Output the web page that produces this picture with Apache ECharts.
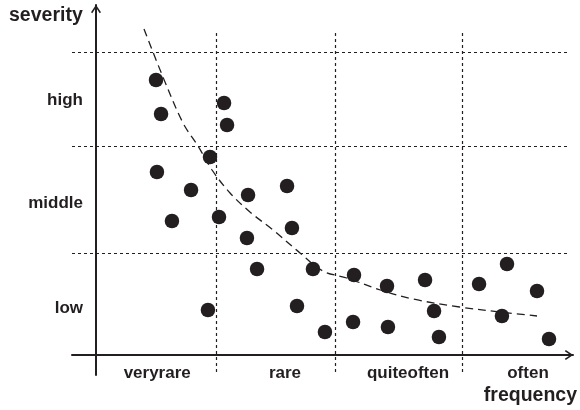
<!DOCTYPE html>
<html>
<head>
<meta charset="utf-8">
<script src="https://cdn.jsdelivr.net/npm/echarts@6/dist/echarts.min.js"></script>
<style>html,body{margin:0;padding:0;background:#fff}#c{width:580px;height:410px}</style>
</head>
<body>
<div id="c"></div>
<script>
// Category labels (frequency) and their positions on the frequency scale
const categories = ['veryrare', 'rare', 'quiteoften', 'often'];
const categoryPos = [0.51, 1.575, 2.6, 3.6];
// Severity levels and their positions on the severity scale
const levels = ['low', 'middle', 'high'];
const levelPos = [0.47, 1.52, 2.55];
// Region dividers
const freqBreaks = [1.0, 1.99, 3.05];
const sevBreaks = [1.02, 2.09, 3.03];
// Observations
const frequency = [0.50, 0.542, 1.067, 1.092, 0.95, 0.508, 0.792, 1.267, 1.592, 0.633,
  1.025, 1.258, 1.633, 1.342, 1.808, 0.933, 1.675, 1.908, 2.15, 2.425,
  2.742, 2.817, 2.142, 2.433, 2.858, 3.192, 3.425, 3.675, 3.383, 3.775];
const severity = [2.75, 2.41, 2.52, 2.30, 1.98, 1.83, 1.65, 1.60, 1.69, 1.34,
  1.38, 1.17, 1.27, 0.86, 0.86, 0.45, 0.49, 0.23, 0.80, 0.69,
  0.75, 0.44, 0.33, 0.28, 0.18, 0.71, 0.91, 0.64, 0.39, 0.16];
// Trend curve
const trendFreq = [0.40, 0.558, 0.725, 0.85, 0.967, 1.117, 1.283, 1.475, 1.70, 1.89, 2.09, 2.37, 2.64, 3.03, 3.37, 3.675];
const trendSev = [3.26, 2.78, 2.32, 2.09, 1.85, 1.62, 1.43, 1.25, 1.02, 0.84, 0.77, 0.65, 0.56, 0.48, 0.43, 0.39];

const INK = '#231f20';
const FONT = 'Liberation Sans, Arial, Helvetica, sans-serif';
const arrowPath = 'path://M5,-8L5,-8Z M5,0L10,7.4L8.7,8.4L5,2.8L1.3,8.4L0,7.4Z';

const chart = echarts.init(document.getElementById('c'), null, {renderer: 'canvas'});

const gridLines = [];
sevBreaks.forEach(v => gridLines.push([{coord: [-0.2, v]}, {coord: [3.925, v]}]));
freqBreaks.forEach(v => gridLines.push([{coord: [v, 3.22]}, {coord: [v, -0.2]}]));

chart.setOption({
  animation: false,
  backgroundColor: '#fff',
  grid: {left: 72, right: 7, top: 5, bottom: 35, containLabel: false},
  xAxis: {
    type: 'value', min: -0.2, max: 3.975,
    axisLine: {onZero: true, lineStyle: {color: INK, width: 2}, symbol: ['none', arrowPath], symbolSize: [10, 16.4]},
    axisTick: {show: false},
    splitLine: {show: false},
    axisLabel: {
      customValues: categoryPos,
      formatter: v => { const i = categoryPos.indexOf(v); return i >= 0 ? categories[i] : ''; },
      color: INK, fontWeight: 'bold', fontSize: 17, fontFamily: FONT, margin: -10
    }
  },
  yAxis: {
    type: 'value', min: -0.2, max: 3.5,
    axisLine: {show: true, onZero: true, lineStyle: {color: INK, width: 2}, symbol: ['none', arrowPath], symbolSize: [10, 16.4]},
    axisTick: {show: false},
    splitLine: {show: false},
    axisLabel: {
      customValues: levelPos,
      formatter: v => { const i = levelPos.indexOf(v); return i >= 0 ? levels[i] : ''; },
      color: INK, fontWeight: 'bold', fontSize: 17, fontFamily: FONT, margin: -11
    }
  },
  graphic: [
    {type: 'text', left: 9, top: 6, style: {text: 'severity', fill: INK, font: 'bold 19.5px ' + FONT}},
    {type: 'text', right: 3, top: 386, style: {text: 'frequency', fill: INK, font: 'bold 19.5px ' + FONT}}
  ],
  series: [
    {
      type: 'line', data: [], clip: false, silent: true,
      markLine: {
        silent: true, symbol: ['none', 'none'], label: {show: false},
        lineStyle: {color: INK, width: 1.2, type: [3, 3]},
        emphasis: {disabled: true},
        data: gridLines
      }
    },
    {
      type: 'line', smooth: 0.35, showSymbol: false, silent: true, z: 3,
      lineStyle: {color: INK, width: 1.3, type: [8, 5]},
      data: trendFreq.map((x, i) => [x, trendSev[i]])
    },
    {
      type: 'scatter', symbolSize: 14.5, z: 4, silent: true,
      itemStyle: {color: INK, opacity: 1},
      data: frequency.map((x, i) => [x, severity[i]])
    }
  ]
});
</script>
</body>
</html>
